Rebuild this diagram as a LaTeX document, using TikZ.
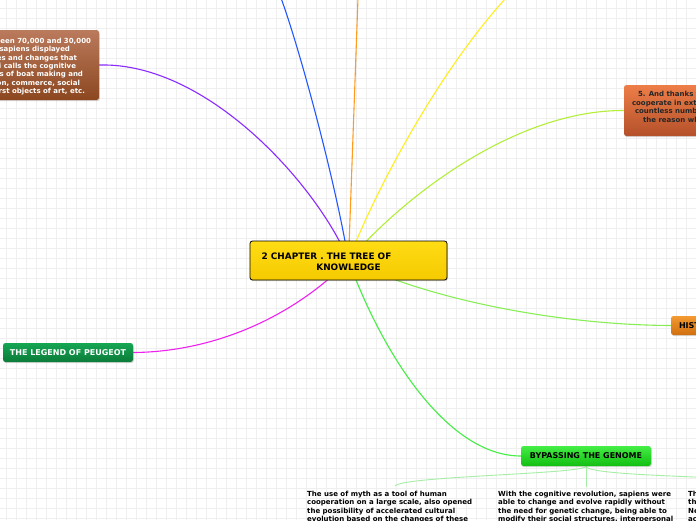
\documentclass[tikz,border=0pt]{standalone}
\usepackage{fontspec}
\setmainfont{DejaVu Sans}
\usetikzlibrary{calc,shadows,backgrounds}
\definecolor{gridc}{HTML}{EFEFEF}
\definecolor{cenT}{HTML}{FFDC14}
\definecolor{cenB}{HTML}{F5CA00}
\definecolor{brT}{HTML}{BA7A5C}
\definecolor{brB}{HTML}{8C4720}
\definecolor{orT}{HTML}{EE7E48}
\definecolor{orB}{HTML}{B4502A}
\definecolor{hiT}{HTML}{F49A30}
\definecolor{hiB}{HTML}{CF6E0E}
\definecolor{peT}{HTML}{15A653}
\definecolor{peB}{HTML}{0B7B39}
\definecolor{byT}{HTML}{44EE44}
\definecolor{byB}{HTML}{12BE12}
\definecolor{lPurple}{HTML}{8A2BFF}
\definecolor{lBlue}{HTML}{2458FF}
\definecolor{lOrange}{HTML}{FF9C1E}
\definecolor{lYellow}{HTML}{FFEE1E}
\definecolor{lYG}{HTML}{B4EE3A}
\definecolor{lLG}{HTML}{88EE55}
\definecolor{lMag}{HTML}{EE22EE}
\definecolor{lGreen}{HTML}{44EE44}
\definecolor{lPale}{HTML}{A6EEA6}
\newcommand{\padr}[1]{\rule{#1}{0pt}}
\begin{document}
\begin{tikzpicture}[x=1pt,y=-1pt,
  box/.style={rectangle, rounded corners=2.5pt, inner sep=0pt,
    drop shadow={shadow xshift=0.8pt, shadow yshift=-1.2pt, opacity=0.3}},
  bigf/.style={font=\fontsize{8}{9.6}\selectfont\bfseries},
  smallf/.style={font=\fontsize{7}{8.4}\selectfont\bfseries, inner sep=0pt},
  link/.style={line width=1.1pt},
  sublink/.style={line width=0.9pt, color=lPale}]
\useasboundingbox (0,0) rectangle (696,520);
\clip (0,0) rectangle (696,520);

% nodes
\node[box, draw=black, line width=0.8pt, top color=cenT, bottom color=cenB,
  minimum width=197pt, minimum height=39pt] (c) at (348.5,260.5) {};
\node[inner sep=0pt, align=center, font=\fontsize{8.9}{11}\selectfont\bfseries] (ct)
  at ($(c.center)+(0,1.5)$)
  {2 CHAPTER . THE TREE OF\padr{44pt}\\KNOWLEDGE};

\node[box, top color=brT, bottom color=brB, minimum width=111pt, minimum height=70pt] (b1) at (43.5,65) {};
\node[smallf, text=white, align=right, anchor=north east] (b1t) at ($(b1.north east)+(-8,8)$)
  {Between 70,000 and 30,000\\
   sapiens displayed\padr{21pt}\\
   new abilities and changes that\padr{14pt}\\
   Harari calls the cognitive\padr{15pt}\\
   revolution: inventions of boat making and\padr{8pt}\\
   religion, commerce, social\padr{11pt}\\
   the first objects of art, etc.\padr{6pt}};

\node[box, top color=orT, bottom color=orB, minimum width=96pt, minimum height=51pt] (o5) at (672,110.5) {};
\node[smallf, text=black!85, align=left, anchor=north west] (o5t) at ($(o5.north west)+(8,6.5)$)
  {\hspace*{6pt}5. And thanks to\\
   cooperate in extr\\
   \hspace*{3pt}countless numbe\\
   \hspace*{11pt}the reason wh};

\node[box, top color=hiT, bottom color=hiB, minimum width=49pt, minimum height=19pt] (hi) at (695.5,325.5) {};
\node[bigf, inner sep=0pt, anchor=west] (hit) at ($(hi.west)+(8,0.5)$) {HISTORY};

\node[box, top color=peT, bottom color=peB, minimum width=130pt, minimum height=19pt,
  bigf, text=white] (pe) at (68,352.5) {THE LEGEND OF PEUGEOT};

\node[box, top color=byT, bottom color=byB, minimum width=130pt, minimum height=20pt,
  bigf, text=black] (by) at (586,456) {BYPASSING THE GENOME};

\node[smallf, align=left, anchor=north west] (t1) at (307,491)
  {The use of myth as a tool of human\\
   cooperation on a large scale, also opened\\
   the possibility of accelerated cultural\\
   evolution based on the changes of these};
\node[smallf, align=left, anchor=north west] (t2) at (498,491)
  {With the cognitive revolution, sapiens were\\
   able to change and evolve rapidly without\\
   the need for genetic change, being able to\\
   modify their social structures, interpersonal};
\node[smallf, align=left, anchor=north west] (t3) at (688,491)
  {The\\the\\Ne\\ac};

\coordinate (eBlue) at (281,-2);
\coordinate (eOrange) at (358,-2);
\coordinate (eYellow) at (506,-2);
\coordinate (e3) at (716,478);

\begin{pgfonlayer}{background}
  \fill[white] (0,0) rectangle (696,520);
  \foreach \x in {6,16,...,696} \draw[gridc, line width=0.6pt] (\x,0) -- (\x,520);
  \foreach \y in {8,18,...,518} \draw[gridc, line width=0.6pt] (0,\y) -- (696,\y);

  \draw[link, lPurple] (b1.east) .. controls (210,62) and (320,190) .. (c.center);
  \draw[link, lBlue] (eBlue) .. controls (300,50) and (335,180) .. (c.center);
  \draw[link, lOrange] (eOrange) -- (c.center);
  \draw[link, lYellow] (eYellow) .. controls (440,70) and (375,190) .. (c.center);
  \draw[link, lYG] (c.center) .. controls (410,190) and (520,110) .. (o5.west);
  \draw[link, lLG] (c.center) .. controls (430,300) and (560,325) .. (hi.west);
  \draw[link, lMag] (c.center) .. controls (290,320) and (210,352) .. (pe.east);
  \draw[link, lGreen] (c.center) .. controls (385,360) and (450,456) .. (by.west);

  \draw[sublink] (by.south) .. controls (586,474) and (402,476) .. ($(t1.north west)+(88,-5)$);
  \draw[sublink] (by.south) -- ($(t2.north west)+(88,-4)$);
  \draw[sublink] (by.south) .. controls (586,474) and (680,476) .. (e3);
\end{pgfonlayer}
\end{tikzpicture}
\end{document}
